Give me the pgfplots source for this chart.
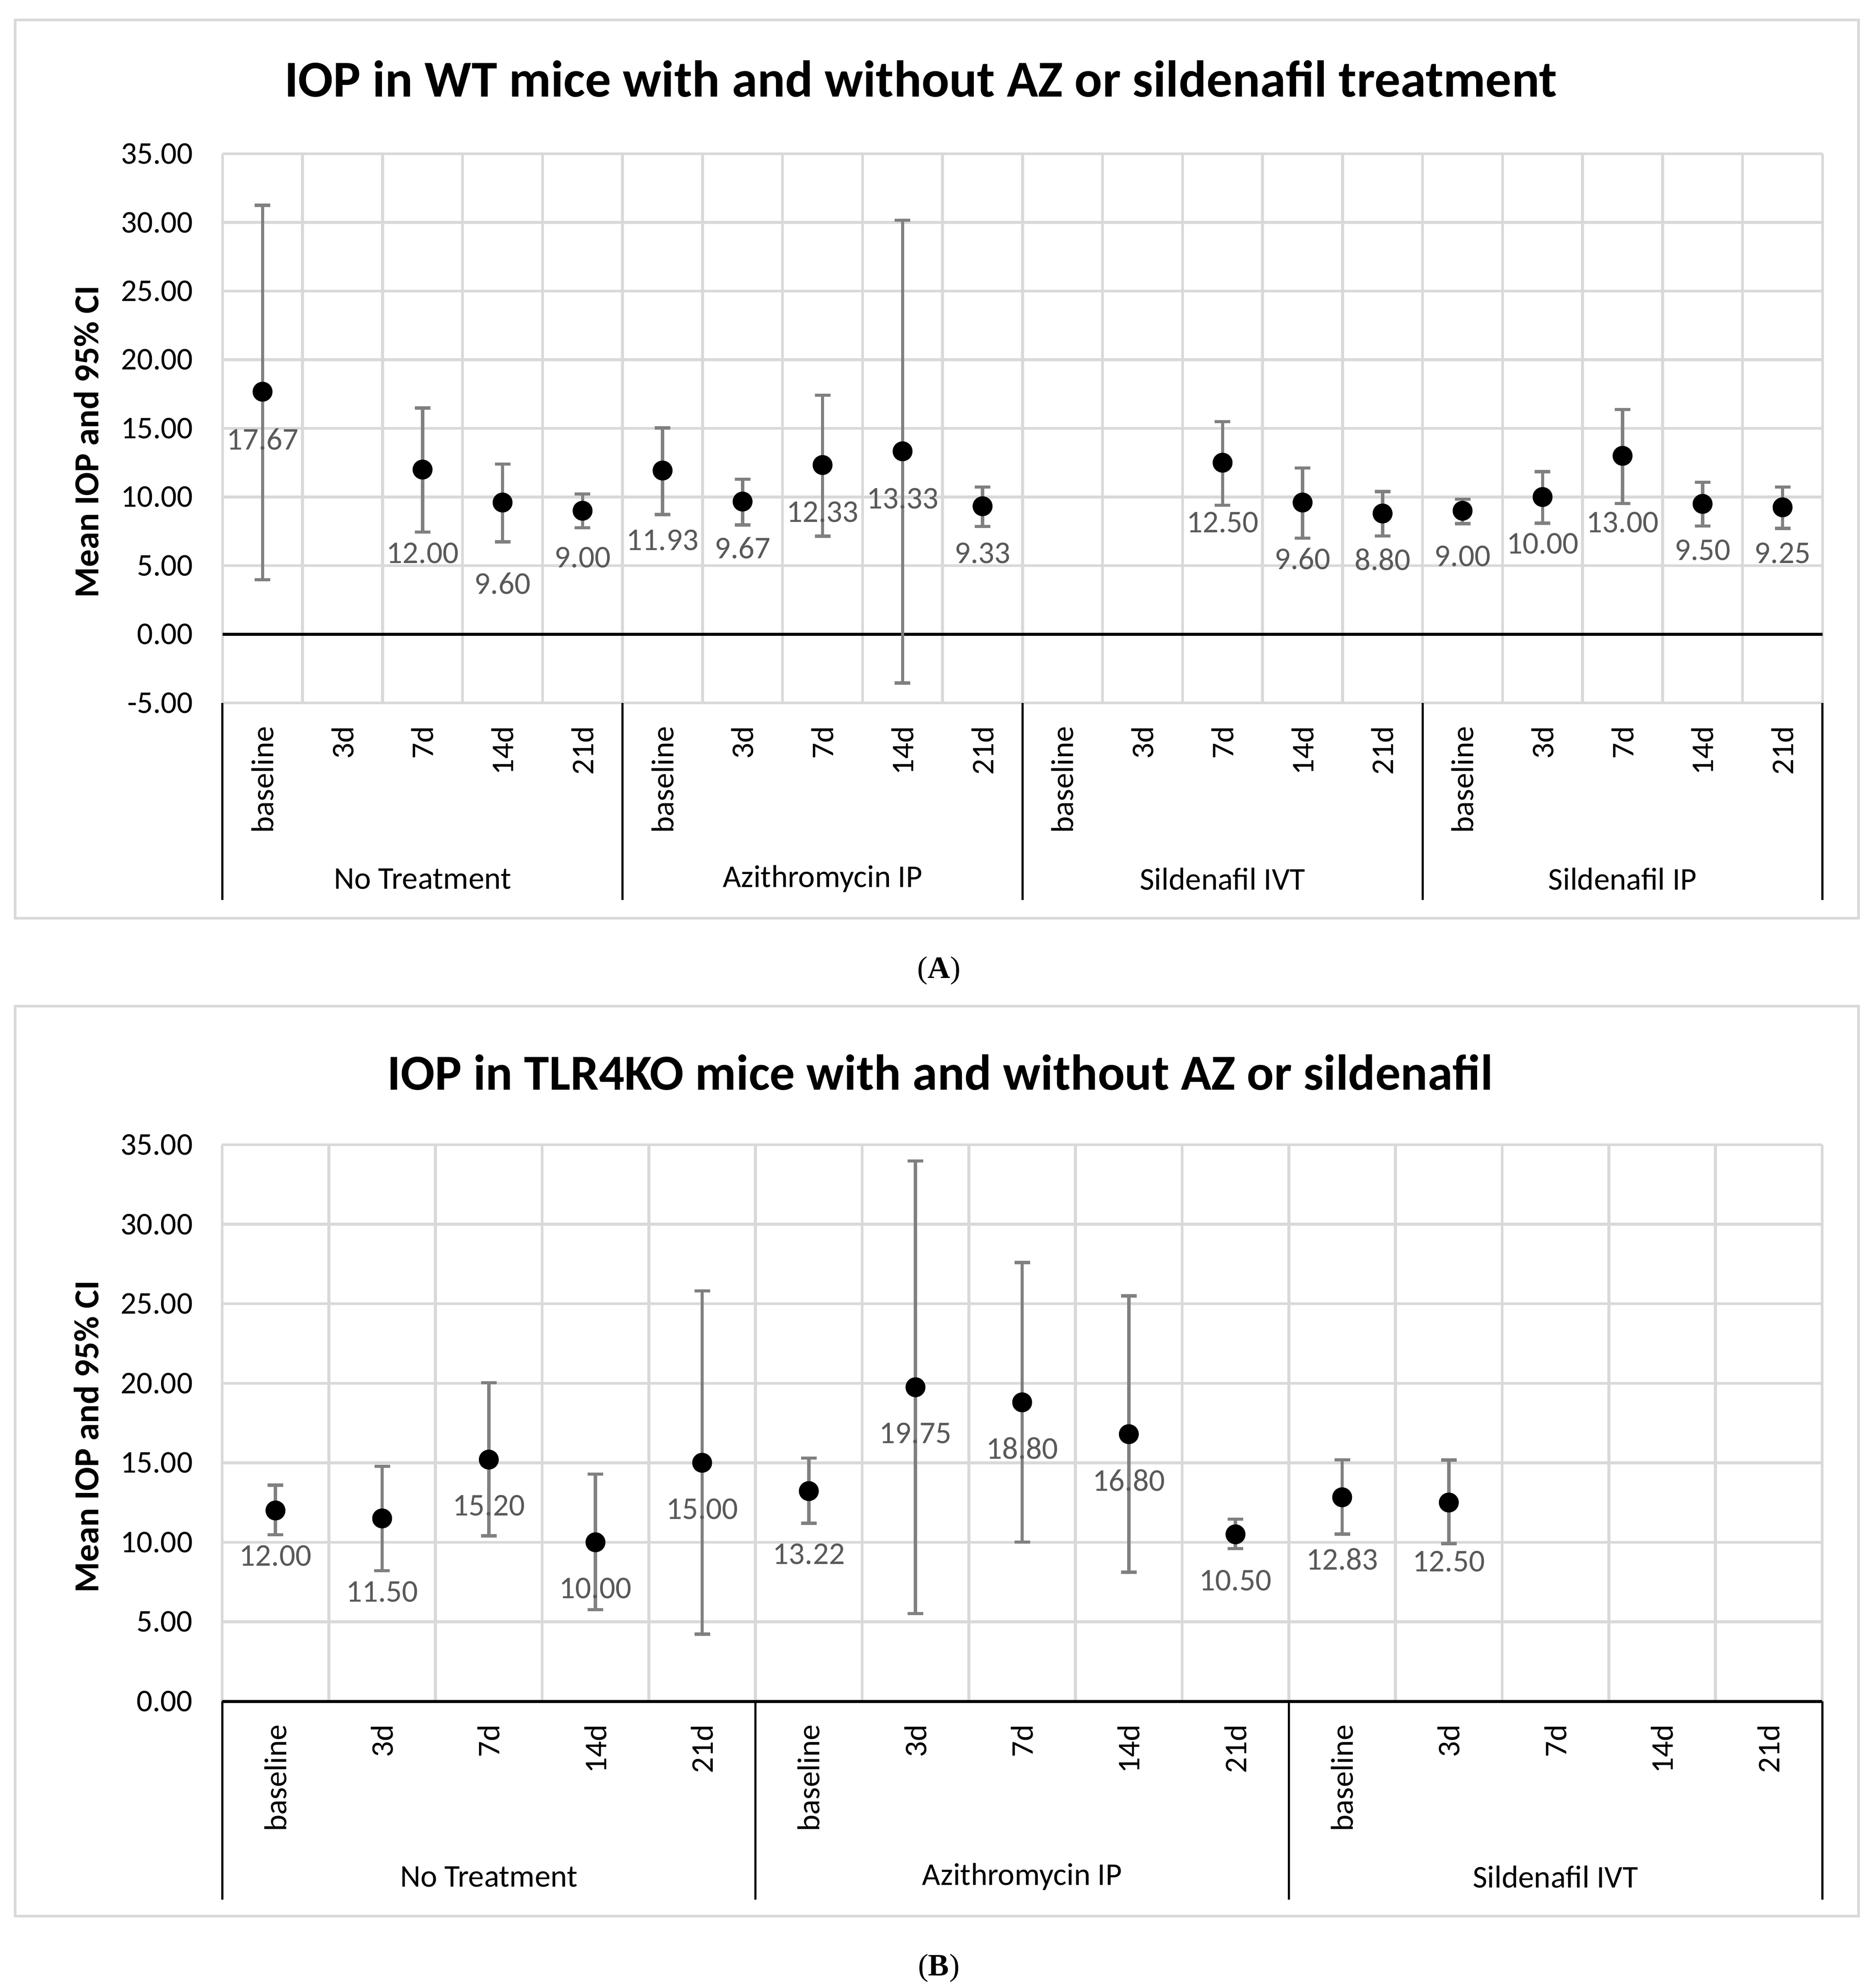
\documentclass[border=0pt]{standalone}
\usepackage{fontspec}
\setmainfont{Carlito}
\newfontfamily\capfont{Liberation Serif}
\usepackage{pgfplots}
\usepackage{pgfplotstable}
\pgfplotsset{compat=1.18}

\definecolor{gridgray}{HTML}{D9D9D9}
\definecolor{bargray}{HTML}{808080}
\definecolor{lblgray}{HTML}{595959}

% x = category slot, y = mean, lo/hi = 95% CI, ly = where the value label sits
\pgfplotstableread{
x  y     lo     hi     ly
1  17.67  3.98  31.25  14.2
3  12.00  7.45  16.48  5.9
4  9.60   6.74  12.40  3.7
5  9.00   7.76  10.23  5.6
6  11.93  8.72  15.03  6.85
7  9.67   7.97  11.30  6.3
8  12.33  7.14  17.42  8.9
9  13.33 -3.54  30.16  9.9
10 9.33   7.86  10.73  5.9
13 12.50  9.40  15.49  8.15
14 9.60   7.00  12.11  5.5
15 8.80   7.16  10.39  5.45
16 9.00   8.07  9.84   5.7
17 10.00  8.10  11.85  6.6
18 13.00  9.53  16.38  8.15
19 9.50   7.89  11.07  6.15
20 9.25   7.71  10.73  5.9
}\wtdata

\pgfplotstableread{
x  y     lo     hi     ly
1  12.00 10.48  13.59  9.15
2  11.50  8.22  14.78  6.9
3  15.20 10.40  20.03  12.3
4  10.00  5.76  14.29  7.1
5  15.00  4.23  25.81  12.1
6  13.22 11.19  15.29  9.25
7  19.75  5.52  33.98  16.85
8  18.80 10.01  27.59  15.9
9  16.80  8.12  25.50  13.9
10 10.50  9.60  11.46  7.6
11 12.83 10.52  15.19  8.95
12 12.50  9.92  15.17  8.8
}\kodata

\newcommand\lbl{\fontsize{7.3}{8.8}\selectfont}

\pgfplotsset{
  iop/.style={
    scale only axis, width=369.5pt, clip=false,
    axis line style={draw=none},
    major tick length=0pt, minor tick length=0pt,
    ymajorgrids, xminorgrids,
    grid style={gridgray, line width=0.65pt},
    minor grid style={gridgray, line width=0.65pt},
    ytick distance=5,
    /pgf/number format/assume math mode=true,
    yticklabel style={font=\lbl, inner sep=0pt,
      /pgf/number format/.cd, fixed, fixed zerofill, precision=2, assume math mode=true},
    yticklabel shift=6.6pt,
    xticklabel style={font=\lbl, rotate=90, anchor=east, inner sep=0pt},
    xticklabel shift=5.2pt,
  },
  meanpts/.style={
    only marks, mark=*, mark size=2.1pt, black,
    error bars/.cd, y dir=both, y explicit,
    error bar style={bargray, line width=0.75pt},
    error mark options={bargray, line width=0.75pt, mark size=1.8pt, rotate=90},
  },
  vallabels/.style={
    draw=none, mark=none, nodes near coords, point meta=explicit,
    nodes near coords style={anchor=center, font=\lbl, text=lblgray,
      /pgf/number format/.cd, fixed, fixed zerofill, precision=2, assume math mode=true},
  },
}

\begin{document}
\begin{tikzpicture}
\path[use as bounding box] (0pt,0pt) rectangle (433pt,-459pt);

% ---------- (A) WT ----------
\draw[gridgray, line width=0.6pt] (3.5pt,-4.6pt) rectangle (429.2pt,-212pt);
\node[font=\bfseries\fontsize{11.95}{14.3}\selectfont] at (212.6pt,-18.2pt) {IOP in WT mice with and without AZ or sildenafil treatment};
\node[rotate=90, font=\bfseries\fontsize{8.1}{9.7}\selectfont] at (19.9pt,-102pt) {Mean IOP and 95\% CI};

\begin{axis}[iop, at={(51.4pt,-162.3pt)}, anchor=south west, height=126.8pt,
  xmin=0.5, xmax=20.5, ymin=-5, ymax=35,
  xtick={1,...,20},
  xticklabels={baseline,3d,7d,14d,21d,baseline,3d,7d,14d,21d,baseline,3d,7d,14d,21d,baseline,3d,7d,14d,21d},
  minor xtick={0.5,1.5,...,20.5}]
  \draw[black, line width=0.65pt] (axis cs:0.5,0) -- (axis cs:20.5,0);
  \addplot[meanpts] table[x=x, y=y,
    y error plus expr=\thisrow{hi}-\thisrow{y},
    y error minus expr=\thisrow{y}-\thisrow{lo}] {\wtdata};
  \addplot[vallabels] table[x=x, y=ly, meta=y] {\wtdata};
  \pgfplotsinvokeforeach{0.5,5.5,10.5,15.5,20.5}{
    \draw[black, line width=0.5pt] (axis cs:#1,-5) -- ++(0pt,-45.5pt);
  }
  \node[font=\lbl] at ([yshift=-40.6pt]axis cs:3,-5) {No Treatment};
  \node[font=\lbl] at ([yshift=-40.6pt]axis cs:8,-5) {Azithromycin IP};
  \node[font=\lbl] at ([yshift=-40.6pt]axis cs:13,-5) {Sildenafil IVT};
  \node[font=\lbl] at ([yshift=-40.6pt]axis cs:18,-5) {Sildenafil IP};
\end{axis}
\node[font=\capfont\fontsize{7.2}{8.6}\selectfont] at (216.8pt,-224.1pt) {(\textbf{A})};

% ---------- (B) TLR4KO ----------
\draw[gridgray, line width=0.6pt] (3.5pt,-232.3pt) rectangle (429.2pt,-442.4pt);
\node[font=\bfseries\fontsize{11.65}{14}\selectfont] at (217.1pt,-247.6pt) {IOP in TLR4KO mice with and without AZ or sildenafil};
\node[rotate=90, font=\bfseries\fontsize{8.1}{9.7}\selectfont] at (19.9pt,-331.7pt) {Mean IOP and 95\% CI};

\begin{axis}[iop, at={(51.3pt,-392.8pt)}, anchor=south west, height=128.5pt,
  xmin=0.5, xmax=15.5, ymin=0, ymax=35,
  xtick={1,...,15},
  xticklabels={baseline,3d,7d,14d,21d,baseline,3d,7d,14d,21d,baseline,3d,7d,14d,21d},
  minor xtick={0.5,1.5,...,15.5}]
  \draw[black, line width=0.7pt] (axis cs:0.5,0) -- (axis cs:15.5,0);
  \addplot[meanpts] table[x=x, y=y,
    y error plus expr=\thisrow{hi}-\thisrow{y},
    y error minus expr=\thisrow{y}-\thisrow{lo}] {\kodata};
  \addplot[vallabels] table[x=x, y=ly, meta=y] {\kodata};
  \pgfplotsinvokeforeach{0.5,5.5,10.5,15.5}{
    \draw[black, line width=0.5pt] (axis cs:#1,0) -- ++(0pt,-45.8pt);
  }
  \node[font=\lbl] at ([yshift=-40.5pt]axis cs:3,0) {No Treatment};
  \node[font=\lbl] at ([yshift=-40.5pt]axis cs:8,0) {Azithromycin IP};
  \node[font=\lbl] at ([yshift=-40.5pt]axis cs:13,0) {Sildenafil IVT};
\end{axis}
\node[font=\capfont\fontsize{7.2}{8.6}\selectfont] at (216.8pt,-454.4pt) {(\textbf{B})};
\end{tikzpicture}
\end{document}
